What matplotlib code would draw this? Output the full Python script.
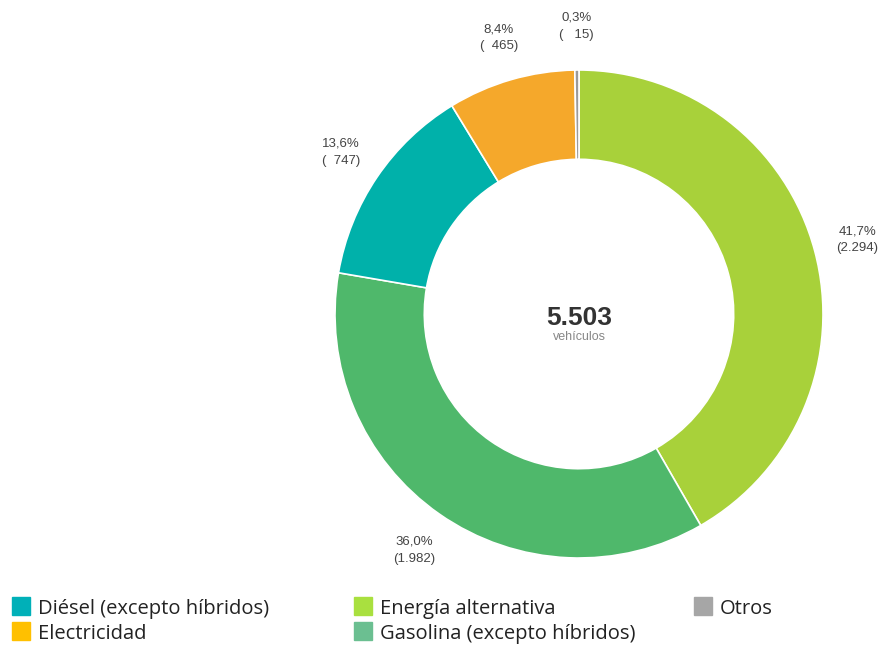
import matplotlib
matplotlib.use("Agg")
import matplotlib.pyplot as plt
import numpy as np
from matplotlib.patches import Rectangle

# data, in drawing order (clockwise from 12 o'clock)
categories = ["Energía alternativa", "Gasolina (excepto híbridos)",
              "Diésel (excepto híbridos)", "Electricidad", "Otros"]
values = [2294, 1982, 747, 465, 15]
wedge_colors = ["#a8d13a", "#4fb86b", "#00b1aa", "#f5a82b", "#9a9a9a"]

legend_order = ["Diésel (excepto híbridos)", "Energía alternativa", "Otros",
                "Electricidad", "Gasolina (excepto híbridos)"]
legend_colors = ["#00b0b8", "#a9e03f", "#a6a6a6", "#ffc000", "#6bbf91"]

total = sum(values)


def fmt_int(v):
    return f"{v:,}".replace(",", ".")


W, H = 881, 648
fig = plt.figure(figsize=(W / 100, H / 100), dpi=100)

cx, cy, R = 579, 314, 244
span = 1.45 * R
ax = fig.add_axes([(cx - span) / W, (H - cy - span) / H, 2 * span / W, 2 * span / H])

wedges, _ = ax.pie(values, colors=wedge_colors, startangle=90, counterclock=False,
                   radius=1.0, wedgeprops=dict(width=0.366, edgecolor="white", linewidth=1.2))
ax.set_xlim(-1.45, 1.45)
ax.set_ylim(-1.45, 1.45)
ax.set_aspect("equal")
ax.axis("off")

# percentage / count labels outside the ring
start = 90.0
for v in values:
    frac = v / total
    mid = np.deg2rad(start - frac * 360 / 2)
    start -= frac * 360
    x, y = 1.18 * np.cos(mid), 1.18 * np.sin(mid)
    pct = f"{frac * 100:.1f}%".replace(".", ",")
    cnt = fmt_int(v)
    cnt = "(" + " " * (5 - len(cnt)) + cnt + ")"
    ax.text(x, y, pct + "\n" + cnt, ha="center", va="center", fontsize=9.5,
            color="#444444", family="Liberation Sans", linespacing=1.55)

ax.text(0, -0.016, fmt_int(total), ha="center", va="center", fontsize=19,
        fontweight="bold", color="#333333", family="Liberation Sans")
ax.text(0, -0.094, "vehículos", ha="center", va="center", fontsize=9,
        color="#888888", family="Liberation Sans")

# legend drawn by hand in pixel coordinates
col_x = [12, 354, 694]
row_y = [606, 631]
for i, (lab, col) in enumerate(zip(legend_order, legend_colors)):
    r, c = divmod(i, 3)
    x0, y0 = col_x[c], row_y[r]
    fig.patches.append(Rectangle((x0 / W, (H - y0 - 9) / H), 18 / W, 18 / H,
                                 transform=fig.transFigure, color=col))
    fig.text((x0 + 26) / W, (H - y0 - 3) / H, lab, ha="left", va="center",
             fontsize=14.5, color="#222222", family="Open Sans")

fig.savefig("out.png", dpi=100)
